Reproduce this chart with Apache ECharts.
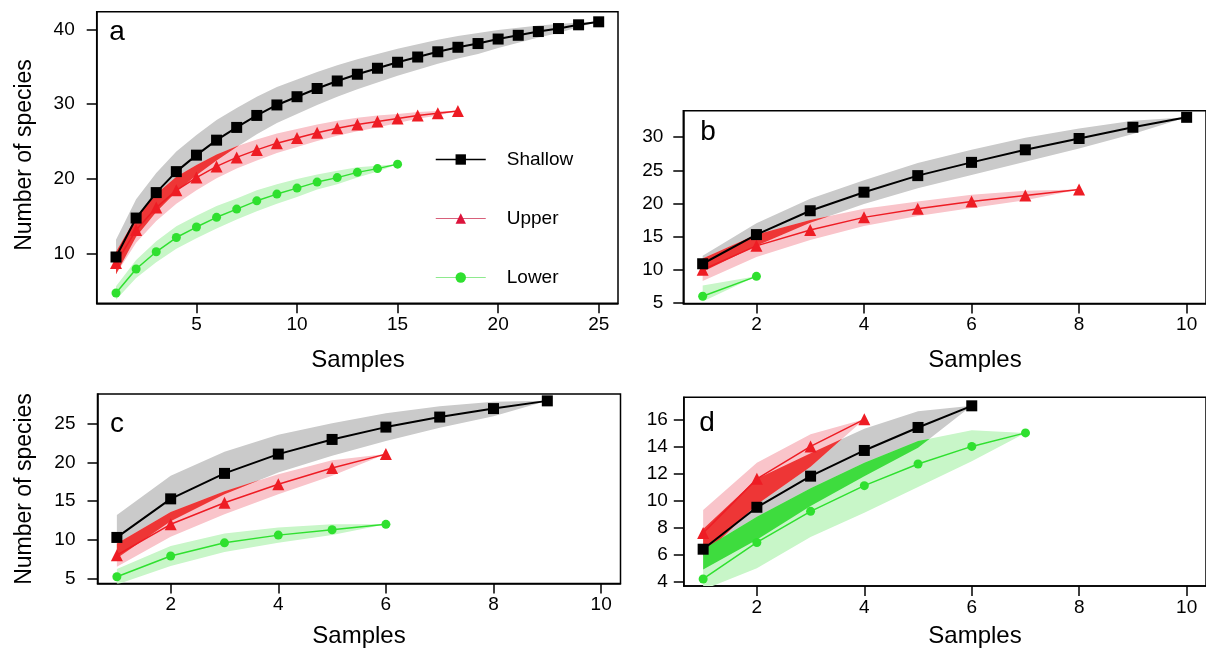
<!DOCTYPE html>
<html>
<head>
<meta charset="utf-8">
<script src="https://cdn.jsdelivr.net/npm/echarts@6/dist/echarts.min.js"></script>
<style>
html, body { margin: 0; padding: 0; background: #fff; }
#chart { width: 1206px; height: 650px; }
</style>
</head>
<body>
<div id="chart"></div>
<script>
// panel a
const aShallow   = [9.6, 14.8, 18.2, 21.0, 23.2, 25.2, 26.9, 28.5, 29.9, 31.0, 32.1, 33.1, 34.0, 34.8, 35.6, 36.3, 37.0, 37.6, 38.1, 38.7, 39.2, 39.7, 40.1, 40.6, 41.0]
const aShallowLo = [7.3, 12.3, 15.6, 18.3, 20.5, 22.5, 24.3, 26.0, 27.5, 28.7, 29.9, 31.0, 32.0, 32.9, 33.8, 34.6, 35.4, 36.1, 36.7, 37.5, 38.2, 38.9, 39.5, 40.3, 41.0]
const aShallowHi = [11.9, 17.3, 20.8, 23.7, 25.9, 27.9, 29.5, 31.0, 32.3, 33.3, 34.3, 35.2, 36.0, 36.7, 37.4, 38.0, 38.6, 39.1, 39.5, 39.9, 40.2, 40.5, 40.7, 40.9, 41.0]
const aUpper     = [8.8, 13.2, 16.2, 18.5, 20.2, 21.7, 22.9, 23.9, 24.8, 25.5, 26.2, 26.8, 27.3, 27.7, 28.1, 28.5, 28.8, 29.1]
const aUpperLo   = [7.3, 11.5, 14.4, 16.7, 18.5, 20.1, 21.4, 22.5, 23.5, 24.3, 25.1, 25.8, 26.4, 26.9, 27.5, 28.05, 28.5, 29.1]
const aUpperHi   = [10.3, 14.9, 18.0, 20.3, 21.9, 23.3, 24.4, 25.3, 26.1, 26.7, 27.3, 27.8, 28.2, 28.5, 28.7, 28.95, 29.1, 29.1]
const aLower     = [4.8, 8.0, 10.3, 12.2, 13.6, 14.9, 16.0, 17.1, 18.0, 18.8, 19.6, 20.2, 20.9, 21.4, 22.0]
const aLowerLo   = [3.9, 6.8, 8.9, 10.7, 12.1, 13.4, 14.6, 15.7, 16.7, 17.6, 18.6, 19.3, 20.2, 21.0, 22.0]
const aLowerHi   = [5.7, 9.2, 11.7, 13.7, 15.1, 16.4, 17.4, 18.5, 19.3, 20.0, 20.6, 21.1, 21.6, 21.8, 22.0]

// panel b
const bShallow   = [10.9, 15.3, 18.9, 21.7, 24.2, 26.2, 28.1, 29.8, 31.5, 33.0]
const bShallowLo = [9.7, 13.6, 17.1, 19.9, 22.3, 24.3, 26.3, 28.3, 30.5, 33.0]
const bShallowHi = [12.1, 17.0, 20.7, 23.5, 26.1, 28.1, 29.9, 31.3, 32.5, 33.0]
const bUpper     = [10.0, 13.6, 16.0, 17.9, 19.2, 20.3, 21.2, 22.1]
const bUpperLo   = [8.3, 11.9, 14.5, 16.6, 18.1, 19.3, 20.5, 22.1]
const bUpperHi   = [11.7, 15.3, 17.5, 19.2, 20.3, 21.3, 21.9, 22.1]
const bLower     = [6.0, 9.0]
const bLowerLo   = [5.2, 9.0]
const bLowerHi   = [7.6, 9.0]

// panel c
const cShallow   = [10.3, 15.3, 18.6, 21.1, 23.0, 24.6, 25.9, 27.0, 28.0]
const cShallowLo = [7.6, 12.4, 15.9, 18.7, 20.9, 22.8, 24.5, 26.0, 28.0]
const cShallowHi = [13.2, 18.3, 21.4, 23.6, 25.1, 26.4, 27.3, 27.9, 28.0]
const cUpper     = [8.0, 12.0, 14.8, 17.2, 19.3, 21.1]
const cUpperLo   = [6.5, 10.4, 13.3, 15.9, 18.3, 21.1]
const cUpperHi   = [9.5, 13.6, 16.3, 18.5, 20.3, 21.1]
const cLower     = [5.2, 7.9, 9.6, 10.6, 11.3, 12.0]
const cLowerLo   = [4.2, 6.6, 8.4, 9.6, 10.6, 12.0]
const cLowerHi   = [6.2, 9.2, 10.8, 11.6, 12.0, 12.0]

// panel d
const dShallow   = [6.4, 9.5, 11.8, 13.7, 15.4, 17.0]
const dShallowLo = [4.9, 7.1, 9.6, 11.8, 13.9, 17.0]
const dShallowHi = [7.9, 11.6, 13.5, 15.3, 16.6, 17.0]
const dUpper     = [7.6, 11.6, 14.0, 16.0]
const dUpperLo   = [5.9, 9.7, 12.5, 16.0]
const dUpperHi   = [9.3, 12.8, 14.9, 16.0]
const dLower     = [4.2, 6.9, 9.2, 11.1, 12.7, 14.0, 15.0]
const dLowerLo   = [3.4, 5.0, 7.3, 9.1, 11.0, 12.9, 15.0]
const dLowerHi   = [6.4, 8.8, 10.9, 12.8, 14.4, 15.2, 15.0]

// ticks
const aXTicks = [5, 10, 15, 20, 25]
const aYTicks = [10, 20, 30, 40]
const bXTicks = [2, 4, 6, 8, 10]
const bYTicks = [5, 10, 15, 20, 25, 30]
const cXTicks = [2, 4, 6, 8, 10]
const cYTicks = [5, 10, 15, 20, 25]
const dXTicks = [2, 4, 6, 8, 10]
const dYTicks = [4, 6, 8, 10, 12, 14, 16]

const FONT = "'Liberation Sans', Arial, Helvetica, sans-serif"
const BLACK = "#000000"
const RED = "#ee1c24"
const GREEN = "#2fe02f"
const GRAY_BAND = "#cacaca"
const RED_BAND = "#f9c4ca"
const GREEN_BAND = "#c8f6c8"
const RED_DARK = "#ee3636"
const GREEN_DARK = "#3edc3e"

// panel boxes in pixels, axis ranges
const panels = [
    { left: 96.7, top: 11.7, width: 521.3, height: 291.6, x: [0.04, 25.96], y: [3.42, 42.35], xt: aXTicks, yt: aYTicks, ym: 22 },
    { left: 683.3, top: 110.7, width: 526.8, height: 192.8, x: [0.64, 10.36], y: [4.9, 34.0], xt: bXTicks, yt: bYTicks, ym: 20 },
    { left: 97.5, top: 394, width: 523, height: 189.5, x: [0.64, 10.36], y: [4.33, 28.89], xt: cXTicks, yt: cYTicks, ym: 22 },
    { left: 683.8, top: 397.3, width: 526.8, height: 188.7, x: [0.64, 10.36], y: [3.68, 17.63], xt: dXTicks, yt: dYTicks, ym: 16 },
]

function pts(values) {
    return values.map((v, i) => [i + 1, v])
}

function triples(lo, hi) {
    return lo.map((v, i) => [i + 1, v, hi[i]])
}

// intersection of two bands, stops where they cross
function overlap(aLo, aHi, bLo, bHi) {
    const n = Math.min(aLo.length, bLo.length)
    const out = []
    for (let i = 0; i < n; i++) {
        const l = Math.max(aLo[i], bLo[i])
        const h = Math.min(aHi[i], bHi[i])
        if (h >= l) {
            out.push([i + 1, l, h])
        } else {
            if (out.length && out[out.length - 1][0] === i) {
                const p = out[out.length - 1]
                const d0 = p[2] - p[1]
                const t = d0 / (d0 - (h - l))
                const v = p[1] + t * (l - p[1])
                out.push([i + t, v, v])
            }
            break
        }
    }
    return out
}

function band(gi, data, color, z) {
    return {
        type: "custom",
        xAxisIndex: gi,
        yAxisIndex: gi,
        z: z,
        silent: true,
        clip: true,
        data: data,
        encode: { x: 0, y: [1, 2] },
        renderItem: function (params, api) {
            if (params.dataIndex !== 0 || data.length < 2) return null
            const top = data.map((d) => api.coord([d[0], d[2]]))
            const bottom = data.map((d) => api.coord([d[0], d[1]])).reverse()
            return {
                type: "polygon",
                shape: { points: top.concat(bottom) },
                style: { fill: color, stroke: null },
            }
        },
    }
}

function line(gi, name, values, color, symbol, size, width) {
    return {
        type: "line",
        name: name,
        xAxisIndex: gi,
        yAxisIndex: gi,
        z: 10,
        data: pts(values),
        symbol: symbol,
        symbolSize: size,
        showSymbol: true,
        itemStyle: { color: color, borderWidth: 0 },
        lineStyle: { color: color, width: width },
        emphasis: { disabled: true },
    }
}

const groups = [
    [aShallow, aShallowLo, aShallowHi, aUpper, aUpperLo, aUpperHi, aLower, aLowerLo, aLowerHi],
    [bShallow, bShallowLo, bShallowHi, bUpper, bUpperLo, bUpperHi, bLower, bLowerLo, bLowerHi],
    [cShallow, cShallowLo, cShallowHi, cUpper, cUpperLo, cUpperHi, cLower, cLowerLo, cLowerHi],
    [dShallow, dShallowLo, dShallowHi, dUpper, dUpperLo, dUpperHi, dLower, dLowerLo, dLowerHi],
]

const series = []
groups.forEach((g, gi) => {
    const [sh, shLo, shHi, up, upLo, upHi, lw, lwLo, lwHi] = g
    series.push(band(gi, triples(shLo, shHi), GRAY_BAND, 1))
    series.push(band(gi, triples(upLo, upHi), RED_BAND, 2))
    series.push(band(gi, triples(lwLo, lwHi), GREEN_BAND, 2))
    series.push(band(gi, overlap(shLo, shHi, upLo, upHi), RED_DARK, 3))
    series.push(band(gi, overlap(shLo, shHi, lwLo, lwHi), GREEN_DARK, 3))
    series.push(line(gi, "Lower", lw, GREEN, "circle", 9, 1.5))
    series.push(line(gi, "Upper", up, RED, "triangle", 12, 1.5))
    series.push(line(gi, "Shallow", sh, BLACK, "rect", 11, 2))
})

const tickLabel = { fontSize: 19, fontFamily: FONT, color: BLACK }

function label(text, x, y, size, rotation) {
    return {
        type: "text", x: x, y: y, rotation: rotation || 0,
        style: { text: text, fontSize: size, fontFamily: FONT, fill: BLACK, align: "center", verticalAlign: "middle" },
    }
}

const option = {
    animation: false,
    backgroundColor: "#ffffff",
    grid: panels.map((p) => ({
        left: p.left, top: p.top, width: p.width, height: p.height,
        show: true, borderColor: BLACK, borderWidth: 1.5, backgroundColor: "transparent",
    })),
    xAxis: panels.map((p, i) => ({
        type: "value", gridIndex: i, min: p.x[0], max: p.x[1],
        splitLine: { show: false },
        axisLine: { show: true, lineStyle: { color: BLACK, width: 1.5 } },
        axisTick: { show: true, length: 10, inside: false, lineStyle: { color: BLACK, width: 1.5 }, customValues: p.xt },
        axisLabel: Object.assign({ margin: 12, customValues: p.xt }, tickLabel),
    })),
    yAxis: panels.map((p, i) => ({
        type: "value", gridIndex: i, min: p.y[0], max: p.y[1],
        splitLine: { show: false },
        axisLine: { show: true, lineStyle: { color: BLACK, width: 1.5 } },
        axisTick: { show: true, length: 10, inside: false, lineStyle: { color: BLACK, width: 1.5 }, customValues: p.yt },
        axisLabel: Object.assign({ margin: p.ym, customValues: p.yt }, tickLabel),
    })),
    legend: {
        orient: "vertical",
        left: 430,
        top: 144,
        itemWidth: 50,
        itemHeight: 13,
        itemGap: 38,
        selectedMode: false,
        textStyle: { fontSize: 19, fontFamily: FONT, color: BLACK, lineHeight: 21, padding: [0, 0, 0, 16] },
        data: [
            { name: "Shallow", itemStyle: { color: BLACK }, lineStyle: { color: BLACK, width: 1.5 } },
            { name: "Upper", itemStyle: { color: "#dc143c" }, lineStyle: { color: "#d8607a", width: 1 } },
            { name: "Lower", itemStyle: { color: GREEN }, lineStyle: { color: "#8eea8e", width: 1 } },
        ],
    },
    graphic: [
        label("a", 117, 32, 28),
        label("b", 708, 132, 28),
        label("c", 117, 424, 28),
        label("d", 707, 423, 28),
        label("Samples", 358, 360, 24),
        label("Samples", 975, 360, 24),
        label("Samples", 359, 636, 24),
        label("Samples", 975, 636, 24),
        label("Number of species", 25, 155, 23, Math.PI / 2),
        label("Number of species", 25, 489, 23, Math.PI / 2),
    ],
    series: series,
}

const myChart = echarts.init(document.getElementById("chart"))
myChart.setOption(option)
</script>
</body>
</html>
